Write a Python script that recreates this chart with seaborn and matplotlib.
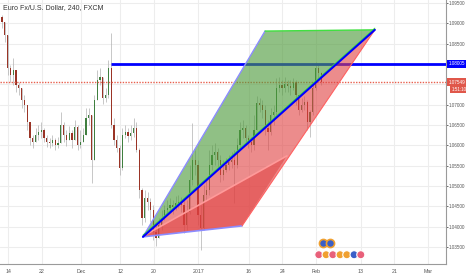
import numpy as np
import pandas as pd
import matplotlib
matplotlib.use("Agg")
import matplotlib.pyplot as plt
import matplotlib.transforms as mtransforms
from matplotlib.patches import Polygon
import seaborn as sns

# ---------------- data ----------------
title = "Euro Fx/U.S. Dollar, 240, FXCM"
first_open = 1.0915
close = [1.0903, 1.0871, 1.0790, 1.0773, 1.0785, 1.0748, 1.0741, 1.0711, 1.0699, 1.0657,
         1.0617, 1.0608, 1.0625, 1.0632, 1.0637, 1.0617, 1.0608, 1.0605, 1.0613, 1.0600,
         1.0605, 1.0650, 1.0625, 1.0613, 1.0630, 1.0613, 1.0645, 1.0600, 1.0608, 1.0625,
         1.0667, 1.0674, 1.0563, 1.0711, 1.0760, 1.0768, 1.0716, 1.0723, 1.0790, 1.0650,
         1.0613, 1.0593, 1.0544, 1.0625, 1.0632, 1.0622, 1.0630, 1.0642, 1.0588, 1.0490,
         1.0421, 1.0470, 1.0460, 1.0440, 1.0386, 1.0372, 1.0404, 1.0421, 1.0440, 1.0445,
         1.0453, 1.0448, 1.0458, 1.0460, 1.0453, 1.0404, 1.0436, 1.0514, 1.0563, 1.0551,
         1.0428, 1.0396, 1.0477, 1.0490, 1.0551, 1.0576, 1.0583, 1.0563, 1.0527, 1.0539,
         1.0551, 1.0559, 1.0563, 1.0551, 1.0600, 1.0637, 1.0642, 1.0617, 1.0608, 1.0600,
         1.0637, 1.0704, 1.0699, 1.0686, 1.0642, 1.0632, 1.0674, 1.0682, 1.0741, 1.0748,
         1.0741, 1.0750, 1.0745, 1.0741, 1.0755, 1.0723, 1.0686, 1.0699, 1.0706, 1.0657,
         1.0682, 1.0741, 1.0790, 1.0777, 1.0755]
high = [1.0920, 1.0888, 1.0822, 1.0797, 1.0814, 1.0765, 1.0755, 1.0736, 1.0723, 1.0691,
        1.0642, 1.0625, 1.0642, 1.0650, 1.0657, 1.0642, 1.0625, 1.0617, 1.0625, 1.0617,
        1.0620, 1.0682, 1.0657, 1.0637, 1.0647, 1.0637, 1.0662, 1.0650, 1.0637, 1.0642,
        1.0691, 1.0691, 1.0674, 1.0723, 1.0785, 1.0790, 1.0748, 1.0741, 1.0809, 1.0876,
        1.0667, 1.0625, 1.0600, 1.0642, 1.0650, 1.0642, 1.0650, 1.0667, 1.0657, 1.0593,
        1.0495, 1.0490, 1.0485, 1.0470, 1.0453, 1.0411, 1.0421, 1.0440, 1.0453, 1.0465,
        1.0470, 1.0465, 1.0475, 1.0477, 1.0472, 1.0465, 1.0465, 1.0551, 1.0654, 1.0588,
        1.0563, 1.0453, 1.0502, 1.0514, 1.0588, 1.0600, 1.0605, 1.0593, 1.0576, 1.0563,
        1.0568, 1.0576, 1.0583, 1.0588, 1.0617, 1.0657, 1.0662, 1.0650, 1.0625, 1.0620,
        1.0674, 1.0721, 1.0716, 1.0711, 1.0699, 1.0662, 1.0691, 1.0699, 1.0765, 1.0768,
        1.0760, 1.0768, 1.0760, 1.0760, 1.0765, 1.0760, 1.0723, 1.0716, 1.0721, 1.0711,
        1.0686, 1.0755, 1.0805, 1.0800, 1.0780]
low = [1.0888, 1.0854, 1.0773, 1.0755, 1.0748, 1.0731, 1.0723, 1.0691, 1.0682, 1.0637,
       1.0600, 1.0593, 1.0608, 1.0613, 1.0617, 1.0608, 1.0595, 1.0593, 1.0598, 1.0588,
       1.0593, 1.0613, 1.0608, 1.0598, 1.0613, 1.0593, 1.0625, 1.0588, 1.0593, 1.0608,
       1.0642, 1.0650, 1.0507, 1.0563, 1.0723, 1.0748, 1.0701, 1.0706, 1.0716, 1.0642,
       1.0600, 1.0583, 1.0527, 1.0539, 1.0617, 1.0608, 1.0613, 1.0620, 1.0583, 1.0470,
       1.0404, 1.0411, 1.0440, 1.0411, 1.0367, 1.0352, 1.0372, 1.0391, 1.0416, 1.0428,
       1.0436, 1.0431, 1.0440, 1.0445, 1.0436, 1.0384, 1.0391, 1.0431, 1.0502, 1.0527,
       1.0404, 1.0342, 1.0391, 1.0465, 1.0477, 1.0539, 1.0551, 1.0544, 1.0509, 1.0514,
       1.0534, 1.0539, 1.0544, 1.0458, 1.0544, 1.0588, 1.0617, 1.0600, 1.0593, 1.0583,
       1.0588, 1.0637, 1.0682, 1.0667, 1.0625, 1.0588, 1.0625, 1.0650, 1.0674, 1.0731,
       1.0723, 1.0731, 1.0731, 1.0723, 1.0736, 1.0699, 1.0674, 1.0682, 1.0686, 1.0637,
       1.0620, 1.0674, 1.0736, 1.0765, 1.0748]

tick_dates = ["2016-11-14", "2016-11-22", "2016-12-01", "2016-12-12", "2016-12-20",
              "2017-01-03", "2017-01-16", "2017-01-24", "2017-02-01", "2017-02-13",
              "2017-02-21", "2017-03-01"]
tick_labels = ["14", "22", "Dec", "12", "20", "2017", "16", "24", "Feb", "13", "21", "Mar"]
holidays = ["2016-12-26", "2017-01-02"]
price_ticks = [1.035, 1.040, 1.045, 1.050, 1.055, 1.060, 1.065, 1.070, 1.075,
               1.080, 1.085, 1.090, 1.095]
hidden_price_labels = [1.075, 1.080]

resistance = 1.08005
resistance_from_bar = 39
last_price = 1.07549
countdown = "1:51:10"

# drawing anchors (trading-day index, price)
trend_start = (24.1, 1.0375)
trend_end = (65.5, 1.0884)
green_top_left = (45.9, 1.0881)
red_bottom_right = (41.8, 1.0402)
inner_start = (24.8, 1.0382)
inner_end = (49.8, 1.0574)

event_days_top = [56.3, 57.5]
event_days_row = [55.5, 56.8, 58.0, 59.3, 60.5, 61.8, 63.0]
event_colors_row = ["#e8607a", "#f0a030", "#e8607a", "#f0a030", "#f0a030", "#3a5fc8", "#e8607a"]

# ---------------- figure ----------------
sns.set_theme(style="white")
plt.rcParams["font.family"] = ["Liberation Sans", "DejaVu Sans"]

W, H = 466, 275
fig = plt.figure(figsize=(W / 100, H / 100), dpi=100)
ax = fig.add_axes([0, 11 / H, 446 / W, 264 / H])

n = len(close)
xpos = -1.07 + 0.5 * np.arange(n)
opens = np.array([first_open] + close[:-1])
cl = np.array(close)
hi = np.maximum.reduce([np.array(high), opens, cl])
lo = np.minimum.reduce([np.array(low), opens, cl])
up = cl >= opens

# grid
tick_pos = [np.busday_count("2016-11-14", d, holidays=holidays) for d in tick_dates]
for t in tick_pos:
    ax.axvline(t, color="#ededed", lw=0.8, zorder=0)
for p in price_ticks:
    ax.axhline(p, color="#ededed", lw=0.8, zorder=0)

# candles
ax.vlines(xpos, lo, hi, color="#b0b0b0", lw=0.5, zorder=2)
body_bottom = np.minimum(opens, cl)
body_h = np.maximum(np.abs(cl - opens), 0.00008)
ax.bar(xpos[up], body_h[up], bottom=body_bottom[up], width=0.24,
       color="#3f7f3f", zorder=2.5, linewidth=0)
ax.bar(xpos[~up], body_h[~up], bottom=body_bottom[~up], width=0.24,
       color="#9a3426", zorder=2.5, linewidth=0)

# horizontal lines
ax.hlines(resistance, xpos[resistance_from_bar], 80, color="#0000ff", lw=2.0, zorder=3)
ax.axhline(last_price, color="#e8604e", lw=1.0, ls=(0, (1, 1)), zorder=3)

# filled drawings
green_poly = Polygon([trend_start, green_top_left, trend_end], closed=True,
                     facecolor="#4d9a3a", alpha=0.62, edgecolor="none", zorder=4)
red_poly = Polygon([trend_start, trend_end, red_bottom_right], closed=True,
                   facecolor="#e04040", alpha=0.6, edgecolor="none", zorder=4)
red_dark = Polygon([trend_start, inner_start, inner_end, red_bottom_right], closed=True,
                   facecolor="#e04040", alpha=0.55, edgecolor="none", zorder=4)
for pg in (green_poly, red_poly, red_dark):
    ax.add_patch(pg)

def seg(a, b, color, lw, z):
    df = pd.DataFrame({"x": [a[0], b[0]], "y": [a[1], b[1]]})
    sns.lineplot(data=df, x="x", y="y", ax=ax, color=color, lw=lw,
                 estimator=None, sort=False, zorder=z)

seg(trend_start, green_top_left, "#8c8cff", 1.0, 5)
seg(green_top_left, trend_end, "#40e040", 1.0, 5)
seg(trend_start, red_bottom_right, "#8c8cff", 1.2, 5)
seg(inner_start, inner_end, "#ff9a9a", 1.2, 5)
seg(red_bottom_right, trend_end, "#ff6060", 0.8, 5)
seg((trend_start[0], trend_start[1] + 0.0004), (trend_end[0], trend_end[1] + 0.0004), "#40e040", 0.8, 5)
seg(trend_start, trend_end, "#0000ff", 1.5, 6)

# event icons near the bottom
ax.scatter(event_days_top, [1.0361] * len(event_days_top), s=34, facecolor="#3a5fc8",
           edgecolor="#f0a030", linewidth=1.2, zorder=7)
ax.scatter(event_days_row, [1.0331] * len(event_days_row), s=34, facecolor=event_colors_row,
           edgecolor="#ffffff", linewidth=0.8, zorder=7)

# axes
ax.set_xlim(-8 / 5.6, 438 / 5.6)
ax.set_ylim(1.03082, 1.09574)
ax.set_xticks(tick_pos)
ax.set_xticklabels(tick_labels)
ax.yaxis.tick_right()
ax.set_yticks(price_ticks)
ax.set_yticklabels(["" if any(abs(p - h) < 1e-9 for h in hidden_price_labels) else f"{p:.5f}"
                    for p in price_ticks])
ax.tick_params(axis="y", labelsize=3.3, colors="#555555", length=1.5, width=0.6, pad=0.6)
ax.tick_params(axis="x", labelsize=3.8, colors="#555555", length=2, width=0.6, pad=1.5)
ax.set_xlabel("")
ax.set_ylabel("")
for s in ("top", "left"):
    ax.spines[s].set_visible(False)
for s in ("right", "bottom"):
    ax.spines[s].set_color("#9a9a9a")
    ax.spines[s].set_linewidth(0.8)

ax.text(0.006, 0.985, title, transform=ax.transAxes, fontsize=5.0, color="#333333",
        va="top", ha="left", zorder=8)

trans = mtransforms.blended_transform_factory(ax.transAxes, ax.transData)
ax.text(1.005, resistance, f"{resistance:.5f}", transform=trans, fontsize=3.3,
        color="white", va="center", ha="left", zorder=9, clip_on=False,
        bbox=dict(boxstyle="square,pad=0.3", facecolor="#0000ff", edgecolor="none"))
ax.text(1.005, last_price, f"{last_price:.5f}", transform=trans, fontsize=3.3,
        color="white", va="center", ha="left", zorder=9, clip_on=False,
        bbox=dict(boxstyle="square,pad=0.3", facecolor="#e0574a", edgecolor="none"))
ax.text(1.012, last_price - 0.00175, countdown, transform=trans, fontsize=3.3,
        color="white", va="center", ha="left", zorder=9, clip_on=False,
        bbox=dict(boxstyle="square,pad=0.3", facecolor="#e0574a", edgecolor="none"))

fig.savefig("out.png", dpi=100)
